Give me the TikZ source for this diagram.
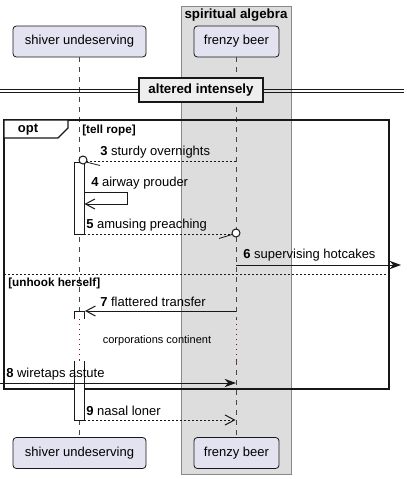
\documentclass[tikz,border=0pt]{standalone}
\usepackage{fontspec}
\setmainfont{Liberation Sans}
\usetikzlibrary{arrows.meta}
\definecolor{partfill}{HTML}{E2E2F0}
\definecolor{partdraw}{HTML}{181818}
\definecolor{grpfill}{HTML}{DDDDDD}
\definecolor{grpdraw}{HTML}{888888}
\definecolor{divfill}{HTML}{EEEEEE}
\definecolor{delayred}{HTML}{990033}
\tikzset{
  part/.style={draw=partdraw, fill=partfill, rounded corners=2.5pt, line width=0.6pt,
    minimum height=31*0.75pt, inner sep=0pt, font=\fontsize{9.75}{11}\selectfont},
  life/.style={draw=partdraw!80, line width=0.5pt, dash pattern=on 3.75pt off 3.75pt},
  lifedelay/.style={draw=delayred, line width=0.75pt, dash pattern=on 0.75pt off 3pt},
  actbox/.style={draw=partdraw, fill=white, line width=0.75pt},
  msg/.style={draw=partdraw, line width=0.75pt},
  dmsg/.style={msg, dash pattern=on 1.5pt off 1.5pt},
  fillhead/.style={-{Stealth[length=8.5pt,width=6.2pt,inset=2.6pt]}},
  openhead/.style={-{Straight Barb[length=7pt,width=7.5pt,line width=0.75pt]}},
  lbl/.style={anchor=west, inner sep=0pt, font=\fontsize{9.75}{11}\selectfont},
  smallbold/.style={anchor=west, inner sep=0pt, font=\fontsize{8.8}{10}\selectfont\bfseries},
}
\begin{document}
\begin{tikzpicture}[x=0.75pt, y=-0.75pt]
\useasboundingbox (0,0) rectangle (407,479);
% group box
\draw[grpdraw, fill=grpfill, line width=0.75pt] (181,6) rectangle (291,474);
\node[font=\fontsize{10}{11}\selectfont\bfseries, inner sep=0pt] (gt) at (236,15.5) {spiritual algebra};
% participants
\node[part, minimum width=133*0.75pt] (sT) at (79.5,41.5) {shiver undeserving};
\node[part, minimum width=85*0.75pt] (fT) at (236.5,41.5) {frenzy beer};
\node[part, minimum width=133*0.75pt] (sB) at (79.5,453) {shiver undeserving};
\node[part, minimum width=85*0.75pt] (fB) at (236.5,453) {frenzy beer};
% lifeline coordinates
\coordinate (sd1) at (79,319); \coordinate (sd2) at (79,360);
\coordinate (fd1) at (236,319); \coordinate (fd2) at (236,360);
\draw[life] (sT.south -| 79,0) -- (sd1);
\draw[lifedelay] (sd1) -- (sd2);
\draw[life] (sd2) -- (sB.north -| 79,0);
\draw[life] (fT.south -| 236,0) -- (fd1);
\draw[lifedelay] (fd1) -- (fd2);
\draw[life] (fd2) -- (fB.north -| 236,0);
% divider
\coordinate (dl1) at (0,89.3); \coordinate (dr1) at (404,89.3);
\coordinate (dl2) at (0,92.7); \coordinate (dr2) at (404,92.7);
\draw[partdraw, line width=0.75pt] (dl1) -- (dr1);
\draw[partdraw, line width=0.75pt] (dl2) -- (dr2);
\node[draw=partdraw, fill=divfill, line width=1.5pt, minimum width=124*0.75pt, minimum height=24*0.75pt,
  inner sep=0pt, font=\fontsize{10}{11}\selectfont\bfseries] (div) at (201,90) {altered intensely};
% opt frame
\draw[partdraw, line width=1.3pt] (4,120) rectangle (389,389);
\draw[partdraw, line width=0.9pt, fill=white] (4,120) -- (68,120) -- (68,128) -- (58,138) -- (4,138) -- cycle;
\node[font=\fontsize{9.75}{11}\selectfont\bfseries, inner sep=0pt] (opt) at (28,130) {opt};
\node[smallbold] (g1) at (82,130) {[tell rope]};
\coordinate (el1) at (4,274); \coordinate (el2) at (389,274);
\draw[partdraw, line width=0.75pt, dash pattern=on 1.5pt off 1.5pt] (el1) -- (el2);
\node[smallbold] (g2) at (8,283) {[unhook herself]};
% activations
\node[actbox, minimum width=10*0.75pt, minimum height=72*0.75pt, inner sep=0pt] (a1) at (79,198) {};
\coordinate (a2tl) at (74,311); \coordinate (a2tr) at (84,311);
\coordinate (a2ml) at (74,319); \coordinate (a2mr) at (84,319);
\coordinate (a2nl) at (74,361); \coordinate (a2nr) at (84,361);
\coordinate (a2bl) at (74,420); \coordinate (a2br) at (84,420);
\fill[white] (a2tl) rectangle (a2mr);
\fill[white] (a2nl) rectangle (a2br);
\draw[actbox] (a2ml) -- (a2tl) -- (a2tr) -- (a2mr);
\draw[actbox] (a2nl) -- (a2bl) -- (a2br) -- (a2nr);
% message 3
\coordinate (m3a) at (236,161.5); \coordinate (m3b) at (87,161.5);
\coordinate (c3) at (83,160);
\draw[dmsg] (m3a) -- (m3b);
\draw[msg, fill=white] (c3) circle (4);
\coordinate (s3a) at (86,162); \coordinate (s3b) at (100,165.5);
\draw[msg, line width=0.6pt] (s3a) -- (s3b);
\node[lbl] (t3) at (100,152) {\textbf{3} sturdy overnights};
% message 4
\coordinate (m4a) at (84,192); \coordinate (m4b) at (127,192);
\coordinate (m4c) at (127,204); \coordinate (m4d) at (84.5,204);
\draw[msg, openhead] (m4a) -- (m4b) -- (m4c) -- (m4d);
\node[lbl] (t4) at (91,183.5) {\textbf{4} airway prouder};
% message 5
\coordinate (m5a) at (84,234); \coordinate (m5b) at (232,234);
\coordinate (c5) at (236,233);
\draw[dmsg] (m5a) -- (m5b);
\draw[msg, fill=white] (c5) circle (4);
\coordinate (s5a) at (219,238.5); \coordinate (s5b) at (232,234.5);
\draw[msg, line width=0.6pt] (s5a) -- (s5b);
\node[lbl] (t5) at (86,225.5) {\textbf{5} amusing preaching};
% message 6
\coordinate (m6a) at (236,265); \coordinate (m6b) at (401,265);
\draw[msg, fillhead] (m6a) -- (m6b);
\node[lbl] (t6) at (243,255.5) {\textbf{6} supervising hotcakes};
% message 7
\coordinate (m7a) at (236,311); \coordinate (m7b) at (85,311);
\draw[msg, openhead] (m7a) -- (m7b);
\node[lbl] (t7) at (100,302) {\textbf{7} flattered transfer};
% delay text
\node[inner sep=0pt, font=\fontsize{8.25}{10}\selectfont] (dly) at (157,341) {corporations continent};
% message 8
\coordinate (m8a) at (0,383); \coordinate (m8b) at (236,383);
\draw[msg, fillhead] (m8a) -- (m8b);
\node[lbl] (t8) at (6,374.5) {\textbf{8} wiretaps astute};
% message 9
\coordinate (m9a) at (84,420); \coordinate (m9b) at (235.5,420);
\draw[dmsg, openhead] (m9a) -- (m9b);
\node[lbl] (t9) at (86,411) {\textbf{9} nasal loner};
\end{tikzpicture}
\end{document}
